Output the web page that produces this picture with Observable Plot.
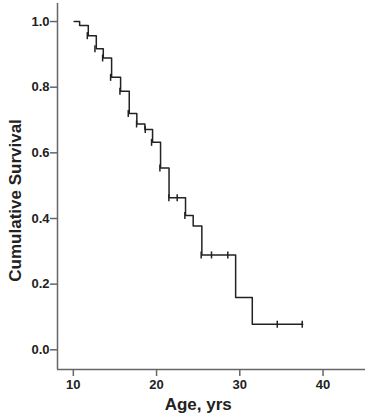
<!DOCTYPE html>
<html>
<head>
<meta charset="utf-8">
<script src="https://cdn.jsdelivr.net/npm/d3@7"></script>
<script src="https://cdn.jsdelivr.net/npm/@observablehq/plot@0.6"></script>
<style>
  html, body { margin: 0; padding: 0; background: #fff; }
  #chart svg { display: block; }
</style>
</head>
<body>
<div id="chart"></div>
<script>
// Kaplan-Meier step curve: event ages and survival after each event
const startAge = 10.1;
const eventAges = [10.76, 11.8, 12.76, 13.6, 14.6, 15.68, 16.72, 17.63, 18.6, 19.52, 20.48, 21.5, 23.48, 24.4, 25.44, 29.5, 31.5];
const survival  = [0.988, 0.957, 0.917, 0.889, 0.830, 0.7875, 0.720, 0.688, 0.671, 0.632, 0.554, 0.463, 0.409, 0.377, 0.289, 0.159, 0.078];
const endAge = 37.56;

// censored observations
const censorAges = [11.68, 12.6, 13.52, 14.48, 15.6, 16.6, 17.6, 18.64, 19.4, 20.4, 21.48, 22.48, 23.4, 25.36, 26.6, 28.56, 34.5, 37.5];
const censorSurv = [0.957, 0.917, 0.889, 0.830, 0.7875, 0.720, 0.688, 0.671, 0.632, 0.554, 0.463, 0.463, 0.409, 0.289, 0.289, 0.289, 0.078, 0.078];

const xTicks = [10, 20, 30, 40];
const yTicks = [0, 0.2, 0.4, 0.6, 0.8, 1.0];
const xLabel = "Age, yrs";
const yLabel = "Cumulative Survival";

const curve = [{age: startAge, s: 1.0}]
  .concat(eventAges.map((a, i) => ({age: a, s: survival[i]})))
  .concat([{age: endAge, s: survival[survival.length - 1]}]);
const censored = censorAges.map((a, i) => ({age: a, s: censorSurv[i]}));

const ink = "#222";
const axisGray = "#666";
const font = "'Liberation Sans', Arial, sans-serif";

const chart = Plot.plot({
  width: 369,
  height: 417,
  marginLeft: 57,
  marginRight: 4,
  marginTop: 3,
  marginBottom: 48,
  style: {fontFamily: font, background: "#fff", color: ink},
  x: {domain: [8.1, 45.1], ticks: xTicks, tickFormat: d => d, label: null},
  y: {domain: [-0.06, 1.055], ticks: yTicks, tickFormat: d3.format(".1f"), label: null},
  marks: [
    Plot.ruleY([-0.06], {stroke: axisGray, strokeWidth: 1.5}),
    Plot.ruleX([8.1], {stroke: axisGray, strokeWidth: 1.5}),
    Plot.axisX({ticks: xTicks, tickSize: 7, tickPadding: 3, tickFormat: d => d, stroke: axisGray, strokeWidth: 1.5,
      fontSize: 13, fontWeight: "bold", fill: ink, label: null}),
    Plot.axisY({ticks: yTicks, tickSize: 7, tickPadding: 1, tickFormat: d3.format(".1f"), stroke: axisGray, strokeWidth: 1.5,
      fontSize: 13, fontWeight: "bold", fill: ink, label: null}),
    Plot.line(curve, {x: "age", y: "s", curve: "step-after", stroke: ink, strokeWidth: 1.5}),
    Plot.link(censored, {x1: "age", x2: "age", y1: d => d.s - 0.0107, y2: d => d.s + 0.0107, stroke: ink, strokeWidth: 1.5}),
    Plot.text([xLabel], {x: () => 25, frameAnchor: "bottom", dy: 40, text: d => d, fontSize: 17, fontWeight: "bold", fill: ink, clip: false}),
    Plot.text([yLabel], {y: () => 0.455, frameAnchor: "left", dx: -42, rotate: -90, textAnchor: "middle", text: d => d, fontSize: 17, fontWeight: "bold", fill: ink, clip: false})
  ]
});
document.getElementById("chart").appendChild(chart);
</script>
</body>
</html>
